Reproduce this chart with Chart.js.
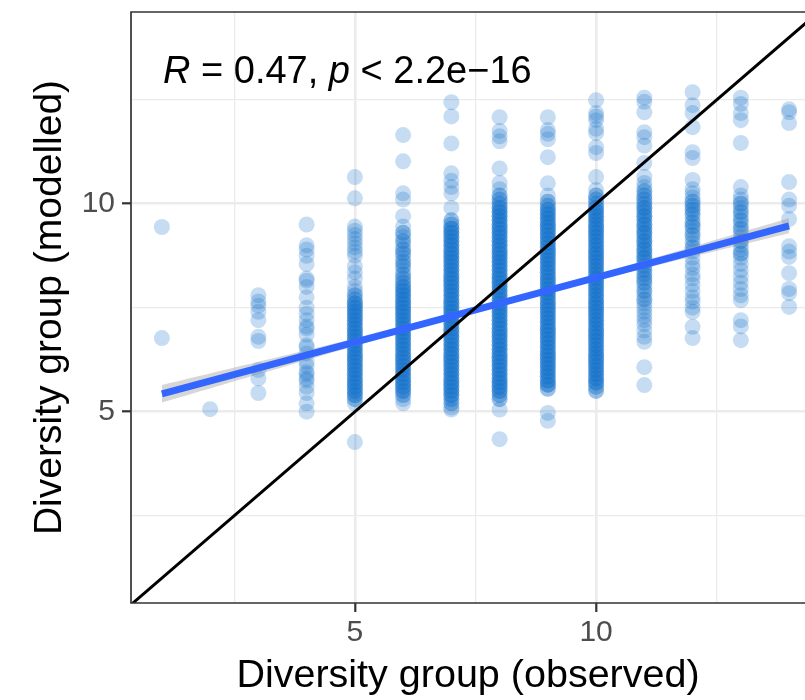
<!DOCTYPE html>
<html><head><meta charset="utf-8">
<script src="https://cdn.jsdelivr.net/npm/chart.js@4/dist/chart.umd.min.js"></script>
<style>html,body{margin:0;padding:0;background:#fff;}canvas{display:block;}</style>
</head><body>
<canvas id="c" width="805" height="700"></canvas>
<script>
// ---- data ----
const xMajorTicks = [5, 10];
const xMinorTicks = [2.5, 7.5, 12.5];
const yMajorTicks = [5, 10];
const yMinorTicks = [2.5, 7.5, 12.5];
const xTitle = 'Diversity group (observed)';
const yTitle = 'Diversity group (modelled)';
const observedGroups = [1,2,3,4,5,6,7,8,9,10,11,12,13,14];
// modelled values per observed group: [y, count]
const col1 = [[9.44,1],[6.77,1]];
const col2 = [[5.06,1]];
const col3 = [[7.8,1],[7.65,1],[7.55,1],[7.4,1],[7.2,1],[6.8,1],[6.7,1],[6.0,1],[5.8,1],[5.45,1]];
const col4 = [[9.5,1],[9.0,1],[8.9,1],[8.75,1],[8.55,1],[8.2,1],[8.15,1],[8.0,1],[7.75,1],[7.5,1],[7.35,1],[7.2,1],[7.05,1],[7.0,1],[6.85,1],[6.6,1],[6.55,1],[6.4,1],[6.2,1],[6.1,1],[5.95,1],[5.9,1],[5.8,1],[5.75,1],[5.6,1],[5.45,1],[5.2,1],[5.0,1]];
const col5 = [[10.64,1],[10.13,1],[9.45,1],[9.35,1],[9.25,1],[9.15,1],[9.05,1],[8.95,1],[8.85,1],[8.75,1],[8.5,1],[8.35,1],[8.2,1],[8.0,1],[7.9,1],[7.8,2],[7.7,2],
  [7.6,3],[7.5,3],[7.4,3],[7.3,3],[7.2,3],[7.1,3],[7.0,3],[6.9,3],[6.8,3],[6.7,3],[6.6,3],[6.5,3],[6.4,3],[6.3,3],[6.2,3],[6.1,3],[6.0,3],[5.9,3],[5.8,3],[5.7,3],[5.6,3],[5.5,3],[5.4,3],[5.3,2],[5.2,1],[4.27,1]];
const col6 = [[11.65,1],[11.02,1],[10.25,1],[10.1,1],[9.7,1],[9.45,1],[9.3,2],[9.2,1],[9.1,2],[9.0,1],[8.9,2],[8.8,2],[8.7,1],[8.6,2],[8.5,2],[8.4,1],[8.3,2],[8.2,2],[8.1,2],
  [8.0,3],[7.9,3],[7.8,3],[7.7,3],[7.6,3],[7.5,3],[7.4,3],[7.3,3],[7.2,3],[7.1,3],[7.0,3],[6.9,3],[6.8,3],[6.7,3],[6.6,3],[6.5,3],[6.4,3],[6.3,3],[6.2,3],[6.1,3],[6.0,3],[5.9,3],[5.8,3],[5.7,3],[5.6,3],[5.5,3],[5.4,2],[5.3,1],[5.2,1]];
const col7 = [[12.44,1],[12.1,1],[11.45,1],[10.73,1],[10.55,1],[10.4,1],[10.25,1],[9.9,1],[9.6,2],[9.5,2],
  [9.4,3],[9.3,3],[9.2,3],[9.1,3],[9.0,3],[8.9,3],[8.8,3],[8.7,3],[8.6,3],[8.5,3],[8.4,3],[8.3,3],[8.2,3],[8.1,3],[8.0,3],[7.9,3],[7.8,3],[7.7,3],[7.6,3],[7.5,3],[7.4,3],[7.3,3],[7.2,3],[7.1,3],[7.0,3],[6.9,3],[6.8,3],[6.7,3],[6.6,3],[6.5,3],[6.4,3],[6.3,3],[6.2,3],[6.1,3],[6.0,3],[5.9,3],[5.8,3],[5.7,3],[5.6,3],[5.5,3],[5.4,3],[5.3,2],[5.2,2],[5.1,1],[5.05,1]];
const col8 = [[12.08,1],[11.75,1],[11.62,1],[11.5,1],[10.85,1],[10.5,1],[10.35,1],[10.2,2],[10.1,2],[10.0,2],
  [9.9,3],[9.8,3],[9.7,3],[9.6,3],[9.5,3],[9.4,3],[9.3,3],[9.2,3],[9.1,3],[9.0,3],[8.9,3],[8.8,3],[8.7,3],[8.6,3],[8.5,3],[8.4,3],[8.3,3],[8.2,3],[8.1,3],[8.0,3],[7.9,3],[7.8,3],[7.7,3],[7.6,3],[7.5,3],[7.4,3],[7.3,3],[7.2,3],[7.1,3],[7.0,3],[6.9,3],[6.8,3],[6.7,3],[6.6,3],[6.5,3],[6.4,3],[6.3,3],[6.2,3],[6.1,3],[6.0,3],[5.9,3],[5.8,3],[5.7,3],[5.6,3],[5.5,3],[5.4,2],[5.3,2],[5.05,1],[4.34,1]];
const col9 = [[12.08,1],[11.77,1],[11.68,1],[11.55,1],[11.12,1],[10.49,1],[10.2,1],[10.05,2],[9.95,2],
  [9.85,3],[9.75,3],[9.65,3],[9.55,3],[9.45,3],[9.35,3],[9.25,3],[9.15,3],[9.05,3],[8.95,3],[8.85,3],[8.75,3],[8.65,3],[8.55,3],[8.45,3],[8.35,3],[8.25,3],[8.15,3],[8.05,3],[7.95,3],[7.85,3],[7.75,3],[7.65,3],[7.55,3],[7.45,3],[7.35,3],[7.25,3],[7.15,3],[7.05,3],[6.95,3],[6.85,3],[6.75,3],[6.65,3],[6.55,3],[6.45,3],[6.35,3],[6.25,3],[6.15,3],[6.05,3],[5.95,3],[5.85,3],[5.75,3],[5.65,3],[5.55,2],[4.97,1],[4.78,1]];
const col10 = [[12.49,1],[12.18,1],[12.1,1],[12.01,1],[11.8,1],[11.7,1],[11.36,1],[11.22,1],[10.64,1],[10.33,1],[10.2,2],[10.1,2],[10.0,2],
  [9.9,3],[9.8,3],[9.7,3],[9.6,3],[9.5,3],[9.4,3],[9.3,3],[9.2,3],[9.1,3],[9.0,3],[8.9,3],[8.8,3],[8.7,3],[8.6,3],[8.5,3],[8.4,3],[8.3,3],[8.2,3],[8.1,3],[8.0,3],[7.9,3],[7.8,3],[7.7,3],[7.6,3],[7.5,3],[7.4,3],[7.3,3],[7.2,3],[7.1,3],[7.0,3],[6.9,3],[6.8,3],[6.7,3],[6.6,3],[6.5,3],[6.4,3],[6.3,3],[6.2,3],[6.1,3],[6.0,3],[5.9,3],[5.8,3],[5.7,3],[5.6,2],[5.5,2]];
const col11 = [[12.55,1],[12.45,1],[12.2,1],[11.72,1],[11.6,1],[11.4,1],[10.98,1],[10.65,1],[10.5,1],[10.4,1],[10.3,2],[10.2,2],[10.1,2],[10.0,2],[9.9,3],[9.8,2],[9.7,3],[9.6,2],[9.5,3],[9.4,2],[9.3,3],[9.2,2],[9.1,3],[9.0,2],[8.9,3],[8.8,2],[8.7,3],[8.6,2],[8.5,2],[8.4,2],[8.3,2],[8.2,2],[8.1,2],[8.0,1],[7.9,2],[7.8,1],[7.7,2],[7.6,1],[7.5,1],[7.4,1],[7.3,1],[7.2,1],[7.1,1],[6.95,1],[6.8,1],[6.68,1],[6.07,1],[5.64,1]];
const col12 = [[12.68,1],[12.37,1],[12.18,1],[11.84,1],[11.24,1],[11.1,1],[10.57,1],[10.35,1],[10.25,1],[10.15,1],[10.05,2],[9.95,2],[9.85,2],[9.75,2],[9.65,1],[9.55,2],[9.45,2],[9.35,1],[9.25,2],[9.15,1],[9.05,1],[8.95,2],[8.85,1],[8.7,1],[8.55,1],[8.45,1],[8.3,1],[8.2,1],[8.05,1],[7.9,1],[7.75,1],[7.65,1],[7.5,1],[7.4,1],[7.04,1],[6.77,1]];
const col13 = [[12.55,1],[12.4,1],[12.18,1],[12.01,1],[11.46,1],[10.4,1],[10.2,1],[10.1,1],[10.0,2],[9.9,1],[9.8,2],[9.7,1],[9.6,2],[9.5,1],[9.4,2],[9.3,1],[9.2,1],[9.1,2],[9.0,1],[8.9,1],[8.8,2],[8.7,1],[8.55,1],[8.4,1],[8.25,1],[8.1,1],[7.95,1],[7.8,1],[7.68,1],[7.2,1],[7.05,1],[6.72,1]];
const col14 = [[12.27,1],[12.2,1],[11.94,1],[10.52,1],[10.1,1],[9.95,1],[9.63,1],[8.98,1],[8.85,1],[8.72,1],[8.33,1],[7.95,1],[7.85,1],[7.52,1]];
const columns = [col1,col2,col3,col4,col5,col6,col7,col8,col9,col10,col11,col12,col13,col14];
// linear fit and its confidence band
const fitX = [1, 14];
const fitY = [5.43, 9.47];
const bandX = [1, 3, 5, 7, 8, 9, 11, 13, 14];
const bandHigh = [5.64, 6.20, 6.76, 7.34, 7.64, 7.96, 8.63, 9.31, 9.65];
const bandLow  = [5.22, 5.90, 6.58, 7.26, 7.58, 7.88, 8.45, 9.01, 9.29];
// identity reference line y = x
const identityX = [0, 15];
const identityY = [0, 15];
const annoR = '0.47';
const annoP = '2.2e\u221216';

// ---- build chart ----
const FONT = "'Liberation Sans', Arial, Helvetica, sans-serif";
const pts = [];
observedGroups.forEach((g, i) => {
  columns[i].forEach(([y, n]) => { for (let k = 0; k < n; k++) pts.push({x: g, y: y}); });
});
const zip = (xs, ys) => xs.map((x, i) => ({x: x, y: ys[i]}));

const panelPlugin = {
  id: 'panel',
  afterDatasetsDraw(chart) {
    const {ctx, chartArea: a} = chart;
    ctx.save();
    ctx.strokeStyle = '#333333';
    ctx.lineWidth = 1.7;
    ctx.beginPath();
    ctx.moveTo(a.right + 2, a.top); ctx.lineTo(a.left, a.top);
    ctx.lineTo(a.left, a.bottom); ctx.lineTo(a.right + 2, a.bottom);
    ctx.stroke();
    // annotation
    ctx.fillStyle = '#000';
    ctx.textBaseline = 'alphabetic';
    let x = 163; const yb = 83;
    const parts = [['R', true], [' = ' + annoR + ', ', false], ['p', true], [' < ' + annoP, false]];
    parts.forEach(([t, it]) => {
      ctx.font = (it ? 'italic ' : '') + '38px ' + FONT;
      ctx.fillText(t, x, yb);
      x += ctx.measureText(t).width;
    });
    ctx.restore();
  }
};

const gridW = c => (c.tick && (c.tick.value % 5 === 0)) ? 2.6 : 1.3;
const tickC = c => (c.tick && (c.tick.value % 5 === 0)) ? '#333333' : 'rgba(0,0,0,0)';

new Chart(document.getElementById('c'), {
  type: 'scatter',
  data: {
    datasets: [
      {label: 'identity', type: 'line', data: zip(identityX, identityY), borderColor: '#000', borderWidth: 3,
       pointRadius: 0, fill: false, tension: 0, order: 0, clip: 0},
      {label: 'fit', type: 'line', data: zip(fitX, fitY), borderColor: '#3366FF', borderWidth: 7,
       pointRadius: 0, fill: false, tension: 0, order: 1, borderCapStyle: 'butt'},
      {label: 'bandHigh', type: 'line', data: zip(bandX, bandHigh), borderWidth: 0, borderColor: 'rgba(0,0,0,0)',
       backgroundColor: 'rgba(153,153,153,0.4)', pointRadius: 0, fill: '+1', tension: 0.4, order: 2},
      {label: 'bandLow', type: 'line', data: zip(bandX, bandLow), borderWidth: 0, borderColor: 'rgba(0,0,0,0)',
       pointRadius: 0, fill: false, tension: 0.4, order: 3},
      {label: 'points', data: pts, backgroundColor: 'rgba(24,116,205,0.25)', borderWidth: 0,
       pointRadius: 8, pointHoverRadius: 8, order: 4}
    ]
  },
  options: {
    responsive: false, animation: false, events: [],
    layout: {autoPadding: false, padding: {top: 12, left: 0, right: 0, bottom: 0}},
    plugins: {legend: {display: false}, tooltip: {enabled: false}},
    scales: {
      x: {
        type: 'linear', position: 'bottom', min: 0.36, max: 14.33,
        afterBuildTicks: s => { s.ticks = xMinorTicks.concat(xMajorTicks).sort((a, b) => a - b).map(v => ({value: v})); },
        afterFit: s => { s.height = 97; s.paddingLeft = 0; s.paddingRight = 0; },
        ticks: {autoSkip: false, maxRotation: 0, padding: 3, color: '#4D4D4D', font: {family: FONT, size: 30},
                callback: v => xMajorTicks.includes(v) ? String(v) : ''},
        grid: {color: '#EBEBEB', lineWidth: gridW, tickLength: 9, tickColor: tickC, tickWidth: 2.2, drawTicks: true},
        border: {display: false},
        title: {display: true, text: xTitle, color: '#000', font: {family: FONT, size: 39.5}, padding: {top: 0, bottom: 0}}
      },
      y: {
        type: 'linear', position: 'left', min: 0.40, max: 14.61,
        afterBuildTicks: s => { s.ticks = yMinorTicks.concat(yMajorTicks).sort((a, b) => a - b).map(v => ({value: v})); },
        afterFit: s => { s.width = 131; s.paddingTop = 0; s.paddingBottom = 0; },
        ticks: {autoSkip: false, padding: 7, color: '#4D4D4D', font: {family: FONT, size: 30},
                callback: v => yMajorTicks.includes(v) ? String(v) : ''},
        grid: {color: '#EBEBEB', lineWidth: gridW, tickLength: 9, tickColor: tickC, tickWidth: 2.2, drawTicks: true},
        border: {display: false},
        title: {display: true, text: yTitle, color: '#000', font: {family: FONT, size: 39}, padding: {top: 27, bottom: 0}}
      }
    }
  },
  plugins: [panelPlugin]
});
</script>
</body></html>
